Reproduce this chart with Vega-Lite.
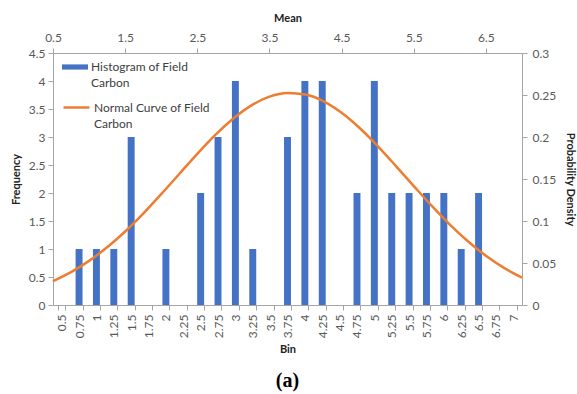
{
  "$schema": "https://vega.github.io/schema/vega-lite/v6.json",
  "width": 469,
  "height": 252,
  "autosize": "none",
  "padding": {"left": 53, "top": 53, "right": 55, "bottom": 89},
  "background": "white",
  "config": {
    "font": "Lato",
    "view": {"stroke": null},
    "style": {"guide-label": {"lineHeight": 16}},
    "axis": {
      "grid": false,
      "domainColor": "#a6a6a6",
      "tickColor": "#a6a6a6",
      "tickSize": 5,
      "labelColor": "#595959",
      "labelFont": "Lato",
      "labelFontSize": 12,
      "titleFont": "Lato",
      "titleFontSize": 11,
      "titleFontWeight": "bold",
      "titleColor": "#222222"
    },
    "legend": {
      "labelFont": "Lato",
      "labelFontSize": 12,
      "labelColor": "#404040",
      "labelLimit": 300
    }
  },
  "title": {
    "text": "(a)",
    "orient": "bottom",
    "anchor": "middle",
    "font": "Liberation Serif",
    "fontSize": 20,
    "fontWeight": "bold",
    "color": "#000000",
    "offset": 16
  },
  "datasets": {
    "hist": [
      {"bin": 0.5, "count": 0}, {"bin": 0.75, "count": 1}, {"bin": 1, "count": 1},
      {"bin": 1.25, "count": 1}, {"bin": 1.5, "count": 3}, {"bin": 1.75, "count": 0},
      {"bin": 2, "count": 1}, {"bin": 2.25, "count": 0}, {"bin": 2.5, "count": 2},
      {"bin": 2.75, "count": 3}, {"bin": 3, "count": 4}, {"bin": 3.25, "count": 1},
      {"bin": 3.5, "count": 0}, {"bin": 3.75, "count": 3}, {"bin": 4, "count": 4},
      {"bin": 4.25, "count": 4}, {"bin": 4.5, "count": 0}, {"bin": 4.75, "count": 2},
      {"bin": 5, "count": 4}, {"bin": 5.25, "count": 2}, {"bin": 5.5, "count": 2},
      {"bin": 5.75, "count": 2}, {"bin": 6, "count": 2}, {"bin": 6.25, "count": 1},
      {"bin": 6.5, "count": 2}, {"bin": 6.75, "count": 0}, {"bin": 7, "count": 0}
    ],
    "curve": [
      {"mean": 0.5, "density": 0.0285}, {"mean": 0.75, "density": 0.0392},
      {"mean": 1.0, "density": 0.0525}, {"mean": 1.25, "density": 0.0687},
      {"mean": 1.5, "density": 0.0875}, {"mean": 1.75, "density": 0.1088},
      {"mean": 2.0, "density": 0.132}, {"mean": 2.25, "density": 0.156},
      {"mean": 2.5, "density": 0.18}, {"mean": 2.75, "density": 0.2025},
      {"mean": 3.0, "density": 0.2221}, {"mean": 3.25, "density": 0.2377},
      {"mean": 3.5, "density": 0.248}, {"mean": 3.75, "density": 0.2524},
      {"mean": 4.0, "density": 0.2505}, {"mean": 4.25, "density": 0.2425},
      {"mean": 4.5, "density": 0.2289}, {"mean": 4.75, "density": 0.2107},
      {"mean": 5.0, "density": 0.1892}, {"mean": 5.25, "density": 0.1657},
      {"mean": 5.5, "density": 0.1416}, {"mean": 5.75, "density": 0.1179},
      {"mean": 6.0, "density": 0.0958}, {"mean": 6.25, "density": 0.0759},
      {"mean": 6.5, "density": 0.0586}, {"mean": 6.75, "density": 0.0442},
      {"mean": 7.0, "density": 0.0325}
    ]
  },
  "layer": [
    {
      "data": {"name": "hist"},
      "mark": {"type": "bar", "color": "#4472C4"},
      "encoding": {
        "x": {
          "field": "bin", "type": "ordinal",
          "scale": {"paddingInner": 0.6, "paddingOuter": 0.3},
          "axis": {
            "orient": "bottom", "title": "Bin", "labelAngle": -90,
            "tickBand": "extent", "labelPadding": 4, "titlePadding": 6
          }
        },
        "y": {
          "field": "count", "type": "quantitative",
          "scale": {"domain": [0, 4.5], "nice": false},
          "axis": {
            "orient": "left", "title": "Frequency", "format": "~g",
            "values": [0, 0.5, 1, 1.5, 2, 2.5, 3, 3.5, 4, 4.5],
            "labelPadding": 3, "titlePadding": 7
          }
        },
        "color": {
          "datum": "Histogram of Field Carbon",
          "scale": {"range": ["#4472C4"]},
          "legend": {
            "title": null, "orient": "none", "legendX": 9, "legendY": 1,
            "symbolType": "M-1,-0.2H1V0.2H-1Z", "symbolSize": 676,
            "symbolStrokeWidth": 0,
            "labelExpr": "['Histogram of Field', 'Carbon']",
            "labelBaseline": "middle", "labelOffset": 3
          }
        }
      }
    },
    {
      "data": {"name": "curve"},
      "mark": {"type": "line", "color": "#ED7D31", "strokeWidth": 2.5, "interpolate": "monotone"},
      "encoding": {
        "x": {
          "field": "mean", "type": "quantitative",
          "scale": {"domain": [0.5, 7], "nice": false, "zero": false},
          "axis": {
            "orient": "top", "title": "Mean", "format": ".1f", "labelFlush": false,
            "values": [0.5, 1.5, 2.5, 3.5, 4.5, 5.5, 6.5],
            "labelPadding": 4, "titlePadding": 8
          }
        },
        "y": {
          "field": "density", "type": "quantitative",
          "scale": {"domain": [0, 0.3], "nice": false},
          "axis": {
            "orient": "right", "title": "Probability Density", "format": "~g",
            "values": [0, 0.05, 0.1, 0.15, 0.2, 0.25, 0.3],
            "labelPadding": 5, "titlePadding": 9
          }
        },
        "color": {
          "datum": "Normal Curve of Field Carbon",
          "scale": {"range": ["#ED7D31"]},
          "legend": {
            "title": null, "orient": "none", "legendX": 9, "legendY": 40,
            "symbolType": "M-1,0H1", "symbolSize": 676, "symbolStrokeWidth": 2.5,
            "labelExpr": "['Normal Curve of Field', 'Carbon']",
            "labelBaseline": "middle", "labelOffset": 3
          }
        }
      }
    }
  ],
  "resolve": {
    "scale": {"x": "independent", "y": "independent", "color": "independent"},
    "axis": {"x": "independent", "y": "independent"},
    "legend": {"color": "independent"}
  }
}
